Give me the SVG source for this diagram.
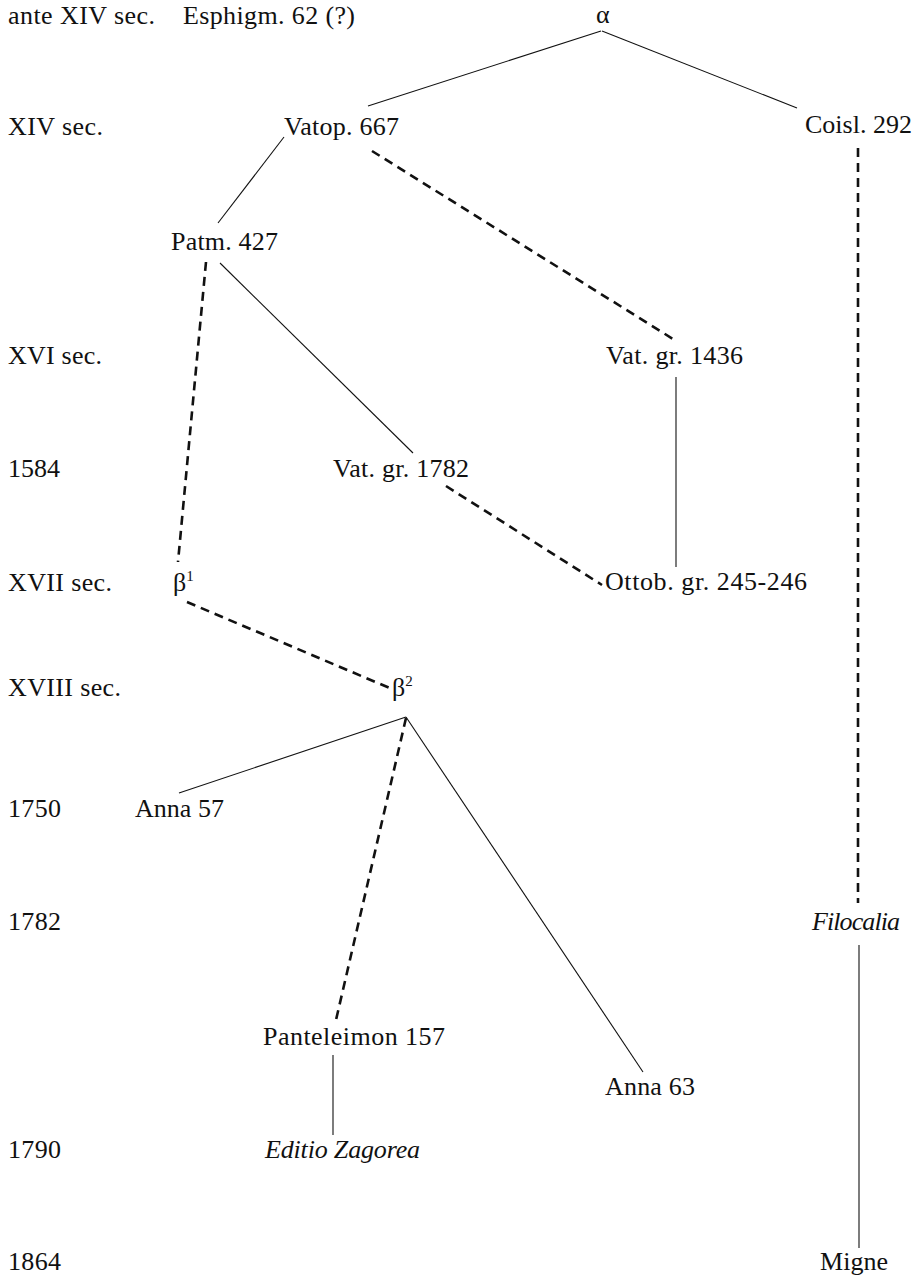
<svg xmlns="http://www.w3.org/2000/svg" width="921" height="1280" viewBox="0 0 921 1280">
<style>
text{font-family:"Liberation Serif","Times New Roman",serif;font-size:26px;fill:#111}
.it{font-style:italic}
.sup{font-size:15px}
.solid{stroke:#111;stroke-width:1.1;fill:none}
.dash{stroke:#111;stroke-width:2.6;fill:none;stroke-dasharray:9 6}
</style>
<rect width="921" height="1280" fill="#fff"/>
<g id="dates">
<text x="8" y="24" textLength="147">ante XIV sec.</text>
<text x="8" y="135" textLength="95">XIV sec.</text>
<text x="8" y="364" textLength="94">XVI sec.</text>
<text x="8" y="477" textLength="52">1584</text>
<text x="8" y="591" textLength="104">XVII sec.</text>
<text x="8" y="696" textLength="113">XVIII sec.</text>
<text x="8" y="817" textLength="53">1750</text>
<text x="8" y="930" textLength="53">1782</text>
<text x="8" y="1158" textLength="53">1790</text>
<text x="8" y="1270" textLength="53">1864</text>
</g>
<g id="connectors">
<line class="solid" x1="601" y1="31" x2="368" y2="106"/>
<line class="solid" x1="602" y1="31" x2="797" y2="108"/>
<line class="solid" x1="284" y1="137" x2="218" y2="223"/>
<line class="dash" x1="372" y1="151" x2="673" y2="339"/>
<line class="dash" x1="858" y1="148" x2="858" y2="903"/>
<line class="dash" x1="206" y1="262" x2="178" y2="562"/>
<line class="solid" x1="220" y1="263" x2="413" y2="453"/>
<line class="solid" x1="676" y1="377" x2="676" y2="567"/>
<line class="dash" x1="446" y1="486" x2="602" y2="585"/>
<line class="dash" x1="187" y1="602" x2="392" y2="689"/>
<line class="solid" x1="406" y1="717" x2="179" y2="793"/>
<line class="dash" x1="406" y1="718" x2="336" y2="1020"/>
<line class="solid" x1="406" y1="717" x2="643" y2="1072"/>
<line class="solid" x1="333" y1="1055" x2="333" y2="1135"/>
<line class="solid" x1="859" y1="945" x2="859" y2="1248"/>
</g>
<g id="esphigm"><text x="183" y="24" textLength="172">Esphigm. 62 (?)</text></g>
<g id="alpha"><text x="596" y="23">α</text></g>
<g id="vatop667"><text x="284" y="135" textLength="115">Vatop. 667</text></g>
<g id="coisl292"><text x="805" y="133" textLength="107">Coisl. 292</text></g>
<g id="patm427"><text x="171" y="250" textLength="107">Patm. 427</text></g>
<g id="vatgr1436"><text x="606" y="364" textLength="137">Vat. gr. 1436</text></g>
<g id="vatgr1782"><text x="333" y="477" textLength="136">Vat. gr. 1782</text></g>
<g id="beta1"><text x="173" y="591">β<tspan class="sup" dy="-10">1</tspan></text></g>
<g id="ottob"><text x="605" y="590" textLength="202">Ottob. gr. 245-246</text></g>
<g id="beta2"><text x="392" y="696">β<tspan class="sup" dy="-10">2</tspan></text></g>
<g id="anna57"><text x="135" y="817" textLength="89">Anna 57</text></g>
<g id="filocalia"><text class="it" x="812" y="930" textLength="88">Filocalia</text></g>
<g id="panteleimon"><text x="263" y="1045" textLength="182">Panteleimon 157</text></g>
<g id="anna63"><text x="605" y="1095" textLength="90">Anna 63</text></g>
<g id="zagorea"><text class="it" x="265" y="1158" textLength="155">Editio Zagorea</text></g>
<g id="migne"><text x="820" y="1270" textLength="68">Migne</text></g>
</svg>
